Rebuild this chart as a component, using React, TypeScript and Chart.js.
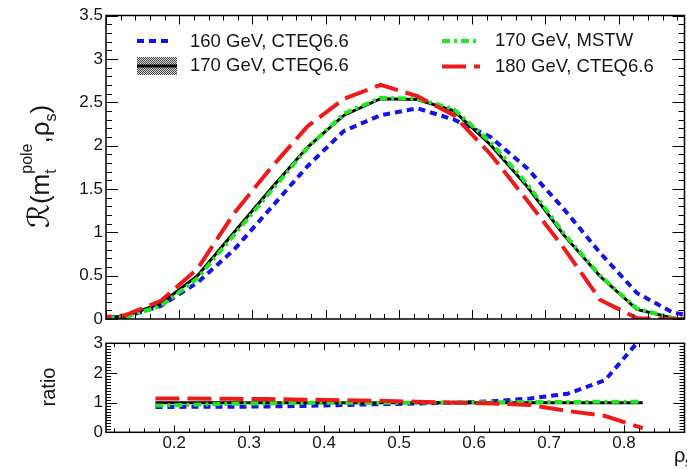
import React, { useEffect, useRef } from "react";
import { Chart, registerables } from "chart.js";
Chart.register(...registerables);

const W = 687;
const H = 469;
const FONT = "'Liberation Sans', Arial, Helvetica, sans-serif";

// ---------- data ----------
const xMain = [0.075, 0.125, 0.175, 0.225, 0.275, 0.325, 0.375, 0.425, 0.475, 0.525, 0.575, 0.625, 0.675, 0.725, 0.775, 0.825, 0.875, 0.925];
const main160 = [0.01, 0.02, 0.15, 0.42, 0.8, 1.28, 1.76, 2.17, 2.35, 2.43, 2.3, 2.1, 1.74, 1.27, 0.76, 0.3, 0.07, 0.01];
const main170 = [0.01, 0.03, 0.18, 0.5, 1.0, 1.5, 1.98, 2.35, 2.54, 2.53, 2.4, 2.01, 1.53, 0.97, 0.49, 0.11, 0.01, 0.0];
const main170M = [0.01, 0.02, 0.15, 0.47, 0.97, 1.47, 1.97, 2.37, 2.55, 2.54, 2.42, 2.04, 1.56, 0.99, 0.5, 0.12, 0.01, 0.0];
const main180 = [0.01, 0.04, 0.21, 0.58, 1.22, 1.74, 2.22, 2.54, 2.7, 2.57, 2.35, 1.9, 1.37, 0.82, 0.22, 0.01, 0.0, 0.0];

const xRatio = [0.175, 0.225, 0.275, 0.325, 0.375, 0.425, 0.475, 0.525, 0.575, 0.625, 0.675, 0.725, 0.775, 0.825];
const ratio160 = [0.85, 0.86, 0.86, 0.87, 0.89, 0.92, 0.95, 0.97, 1.0, 1.05, 1.14, 1.3, 1.76, 3.24];
const ratio170 = [1, 1, 1, 1, 1, 1, 1, 1, 1, 1, 1, 1, 1, 1];
const ratio170M = [0.9, 0.93, 0.96, 0.98, 0.99, 1.0, 1.0, 1.0, 1.01, 1.01, 1.02, 1.02, 1.03, 1.03];
const ratio180 = [1.14, 1.14, 1.13, 1.12, 1.1, 1.08, 1.06, 1.03, 1.0, 0.97, 0.92, 0.72, 0.55, 0.14];

const yTicksMain = ["0", "0.5", "1", "1.5", "2", "2.5", "3", "3.5"];
const yTicksRatio = ["0", "1", "2", "3"];
const xTicks = ["0.2", "0.3", "0.4", "0.5", "0.6", "0.7", "0.8"];
const legendLabels = ["160 GeV, CTEQ6.6", "170 GeV, CTEQ6.6", "170 GeV, MSTW", "180 GeV, CTEQ6.6"];

// ---------- styles ----------
const STY = {
  blue: { color: "#1414e6", width: 4, dash: [7, 5] },
  black: { color: "#000000", width: 3, dash: [] as number[] },
  green: { color: "#22e822", width: 4, dash: [8, 4, 3, 4] },
  red: { color: "#ee1a1a", width: 4, dash: [24, 8] },
};

function ds(xs: number[], ys: number[], s: any, order: number) {
  return {
    data: xs.map((x, i) => ({ x, y: ys[i] })),
    borderColor: s.color,
    borderWidth: s.width,
    borderDash: s.dash,
    backgroundColor: s.color,
    pointRadius: 0,
    tension: 0,
    fill: false,
    order,
  };
}

function makePattern(ctx: CanvasRenderingContext2D) {
  const c = document.createElement("canvas");
  c.width = 2;
  c.height = 2;
  const g = c.getContext("2d")!;
  g.fillStyle = "#d8d8d8";
  g.fillRect(0, 0, 2, 2);
  g.fillStyle = "#444";
  g.fillRect(0, 0, 1, 1);
  g.fillRect(1, 1, 1, 1);
  return ctx.createPattern(c, "repeat");
}

function drawAxes(chart: any, o: any) {
  const { ctx, chartArea: a } = chart;
  const xs = chart.scales.x;
  const ys = chart.scales.y;
  ctx.save();
  ctx.strokeStyle = "#000";
  ctx.lineWidth = 1;
  ctx.beginPath();
  const xi0 = Math.ceil(xs.min / o.xStep - 1e-6);
  const xi1 = Math.floor(xs.max / o.xStep + 1e-6);
  for (let i = xi0; i <= xi1; i++) {
    const px = Math.round(xs.getPixelForValue(i * o.xStep)) + 0.5;
    const L = i % o.xMajorEvery === 0 ? o.xMajorLen : o.xMinorLen;
    ctx.moveTo(px, a.bottom);
    ctx.lineTo(px, a.bottom - L);
    ctx.moveTo(px, a.top);
    ctx.lineTo(px, a.top + L);
  }
  const yi0 = Math.ceil(ys.min / o.yStep - 1e-6);
  const yi1 = Math.floor(ys.max / o.yStep + 1e-6);
  for (let i = yi0; i <= yi1; i++) {
    const py = Math.round(ys.getPixelForValue(i * o.yStep)) + 0.5;
    const L = i % o.yMajorEvery === 0 ? o.yMajorLen : o.yMinorLen;
    ctx.moveTo(a.left, py);
    ctx.lineTo(a.left + L, py);
    ctx.moveTo(a.right, py);
    ctx.lineTo(a.right - L, py);
  }
  ctx.stroke();
  ctx.lineWidth = 1.5;
  ctx.strokeRect(a.left, a.top, a.right - a.left, a.bottom - a.top);

  ctx.fillStyle = "#151515";
  ctx.font = `17px ${FONT}`;
  ctx.textAlign = "right";
  ctx.textBaseline = "middle";
  for (const t of o.yLabels) {
    ctx.fillText(t, a.left - 3, ys.getPixelForValue(parseFloat(t)));
  }
  if (o.xLabels) {
    ctx.textAlign = "center";
    for (const t of o.xLabels) {
      ctx.fillText(t, xs.getPixelForValue(parseFloat(t)), o.xLabelY);
    }
  }
  ctx.restore();
}

function seg(ctx: CanvasRenderingContext2D, s: any, x0: number, x1: number, y: number) {
  ctx.save();
  ctx.strokeStyle = s.color;
  ctx.lineWidth = s.width;
  ctx.setLineDash(s.dash);
  ctx.beginPath();
  ctx.moveTo(x0, y);
  ctx.lineTo(x1, y);
  ctx.stroke();
  ctx.restore();
}

const mainDecor = {
  id: "mainDecor",
  afterDraw(chart: any) {
    drawAxes(chart, {
      xStep: 0.02, xMajorEvery: 5, xMajorLen: 9, xMinorLen: 5,
      yStep: 0.1, yMajorEvery: 5, yMajorLen: 12, yMinorLen: 6,
      yLabels: yTicksMain,
    });
    const ctx: CanvasRenderingContext2D = chart.ctx;
    // legend
    ctx.save();
    seg(ctx, STY.blue, 137, 172, 41);
    const pat = makePattern(ctx);
    if (pat) {
      ctx.fillStyle = pat;
      ctx.fillRect(137, 57, 40, 18);
    }
    seg(ctx, STY.black, 137, 177, 66);
    seg(ctx, STY.green, 442, 480, 41);
    seg(ctx, STY.red, 442, 480, 66.5);
    ctx.fillStyle = "#151515";
    ctx.font = `18.5px ${FONT}`;
    ctx.textAlign = "left";
    ctx.textBaseline = "middle";
    ctx.fillText(legendLabels[0], 190, 41.5);
    ctx.fillText(legendLabels[1], 190, 66);
    ctx.fillText(legendLabels[2], 495, 41);
    ctx.fillText(legendLabels[3], 495, 66.5);
    ctx.restore();

    // y title: R(m_t^pole, rho_s)
    ctx.save();
    ctx.translate(49, 228);
    ctx.rotate(-Math.PI / 2);
    ctx.fillStyle = "#151515";
    ctx.textAlign = "left";
    ctx.textBaseline = "alphabetic";
    let cx = 0;
    const put = (t: string, font: string, dy: number) => {
      ctx.font = font;
      ctx.fillText(t, cx, dy);
      return ctx.measureText(t).width;
    };
    const big = `26px ${FONT}`;
    const small = `16px ${FONT}`;
    cx += put("\u211B", `30px 'DejaVu Sans', ${FONT}`, 0);
    cx += put("(", big, 0);
    cx += put("m", big, 0);
    const wPole = put("pole", small, -17);
    const wT = put("t", small, 7);
    cx += Math.max(wPole, wT);
    cx += put(",", big, 0);
    cx += put("\u03C1", big, 0);
    cx += put("s", small, 7);
    cx += put(")", big, 0);
    ctx.restore();
  },
};

const ratioDecor = {
  id: "ratioDecor",
  afterDraw(chart: any) {
    drawAxes(chart, {
      xStep: 0.02, xMajorEvery: 5, xMajorLen: 7, xMinorLen: 4,
      yStep: 0.1, yMajorEvery: 10, yMajorLen: 11, yMinorLen: 5,
      yLabels: yTicksRatio,
      xLabels: xTicks, xLabelY: 443,
    });
    const ctx: CanvasRenderingContext2D = chart.ctx;
    ctx.save();
    ctx.fillStyle = "#151515";
    ctx.translate(55, 387);
    ctx.rotate(-Math.PI / 2);
    ctx.font = `20px ${FONT}`;
    ctx.textAlign = "center";
    ctx.textBaseline = "alphabetic";
    ctx.fillText("ratio", 0, 0);
    ctx.restore();
    ctx.save();
    ctx.fillStyle = "#151515";
    ctx.font = `20px ${FONT}`;
    ctx.textAlign = "left";
    ctx.textBaseline = "alphabetic";
    ctx.fillText("\u03C1", 674, 462);
    ctx.font = `14px ${FONT}`;
    ctx.fillText("s", 685, 467);
    ctx.restore();
  },
};

export default function App() {
  const topRef = useRef<HTMLCanvasElement>(null);
  const botRef = useRef<HTMLCanvasElement>(null);

  useEffect(() => {
    const c1 = new Chart(topRef.current!, {
      type: "line",
      data: {
        datasets: [
          ds(xMain, main160, STY.blue, 4),
          ds(xMain, main170, STY.black, 3),
          ds(xMain, main170M, STY.green, 2),
          ds(xMain, main180, STY.red, 1),
        ] as any,
      },
      options: {
        animation: false,
        responsive: false,
        maintainAspectRatio: false,
        layout: { padding: { left: 106, top: 15.5, right: 2.5, bottom: 150 } },
        scales: {
          x: { type: "linear", min: 0.1, max: 0.89, display: false },
          y: { type: "linear", min: 0, max: 3.5, display: false },
        },
        plugins: { legend: { display: false }, tooltip: { enabled: false } },
      },
      plugins: [mainDecor],
    });
    const c2 = new Chart(botRef.current!, {
      type: "line",
      data: {
        datasets: [
          ds(xRatio, ratio160, STY.blue, 4),
          ds(xRatio, ratio170, STY.black, 3),
          ds(xRatio, ratio170M, STY.green, 2),
          ds(xRatio, ratio180, STY.red, 1),
        ] as any,
      },
      options: {
        animation: false,
        responsive: false,
        maintainAspectRatio: false,
        layout: { padding: { left: 106, top: 343.3, right: 2.5, bottom: 469 - 432.3 } },
        scales: {
          x: { type: "linear", min: 0.109, max: 0.8807, display: false },
          y: { type: "linear", min: 0, max: 3, display: false },
        },
        plugins: { legend: { display: false }, tooltip: { enabled: false } },
      },
      plugins: [ratioDecor],
    });
    return () => {
      c1.destroy();
      c2.destroy();
    };
  }, []);

  return (
    <div style={{ position: "fixed", left: 0, top: 0, width: W, height: H, background: "#fff", overflow: "hidden" }}>
      <canvas ref={topRef} width={W} height={H} style={{ position: "absolute", left: 0, top: 0, width: W, height: H }} />
      <canvas ref={botRef} width={W} height={H} style={{ position: "absolute", left: 0, top: 0, width: W, height: H }} />
    </div>
  );
}
